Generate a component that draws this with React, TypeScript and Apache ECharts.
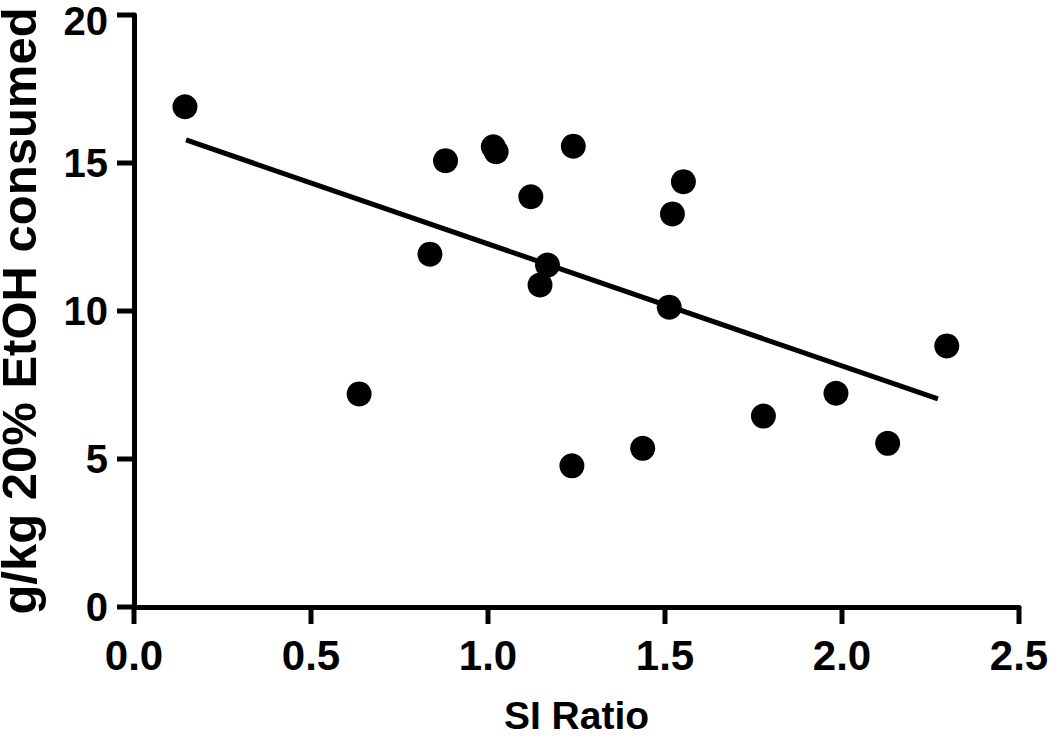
import React, { useEffect, useRef } from "react";
import * as echarts from "echarts";

const siRatio = [0.144, 0.636, 0.836, 0.880, 1.015, 1.023, 1.121, 1.147, 1.168, 1.241, 1.237, 1.437, 1.512, 1.521, 1.552, 1.778, 1.983, 2.129, 2.296];
const etohConsumed = [16.9, 7.2, 11.92, 15.08, 15.55, 15.38, 13.86, 10.88, 11.55, 15.57, 4.77, 5.36, 10.13, 13.28, 14.37, 6.45, 7.22, 5.53, 8.82];
const fitX = [0.147, 2.271];
const fitY = [15.78, 7.03];
const xTicks = [0, 0.5, 1.0, 1.5, 2.0, 2.5];
const yTicks = [0, 5, 10, 15, 20];
const xTitle = "SI Ratio";
const yTitle = "g/kg 20% EtOH consumed";

const FONT = "'Liberation Sans', Arial, Helvetica, sans-serif";
const TICK_LEN = 17;

export default function App() {
  const ref = useRef<HTMLDivElement>(null);
  useEffect(() => {
    if (!ref.current) return;
    const chart = echarts.init(ref.current, null, { renderer: "svg" });
    const points = siRatio.map((x, i) => [x, etohConsumed[i]]);
    const fit = fitX.map((x, i) => [x, fitY[i]]);
    chart.setOption({
      animation: false,
      backgroundColor: "#ffffff",
      grid: { left: 134, right: 31, top: 15, bottom: 129, containLabel: false, outerBoundsMode: "none" },
      xAxis: {
        type: "value",
        min: 0,
        max: 2.5,
        interval: 0.5,
        name: xTitle,
        nameLocation: "middle",
        nameGap: 93,
        nameTextStyle: { fontFamily: FONT, fontSize: 39, lineHeight: 30, fontWeight: "bold", color: "#000" },
        axisLine: { show: true, onZero: false, lineStyle: { color: "#000", width: 5, opacity: 1 } },
        axisTick: { show: false },
        axisLabel: {
          margin: 27,
          fontFamily: FONT,
          fontSize: 42,
          fontWeight: "bold",
          color: "#000",
          formatter: (v: number) => v.toFixed(1),
        },
        splitLine: { show: false },
      },
      yAxis: {
        type: "value",
        min: 0,
        max: 20,
        interval: 5,
        name: yTitle,
        nameLocation: "middle",
        nameGap: 91,
        nameTextStyle: { fontFamily: FONT, fontSize: 49, fontWeight: "bold", color: "#000" },
        axisLine: { show: true, onZero: false, lineStyle: { color: "#000", width: 5, opacity: 1 } },
        axisTick: { show: false },
        axisLabel: {
          margin: 26,
          fontFamily: FONT,
          fontSize: 40,
          fontWeight: "bold",
          color: "#000",
          formatter: (v: number) => (v === 20 ? "{top|" + v + "}" : String(v)),
          rich: {
            top: {
              fontFamily: FONT,
              fontSize: 40,
              fontWeight: "bold",
              color: "#000",
              lineHeight: 20,
              padding: [12, 0, 0, 0],
            },
          },
        },
        splitLine: { show: false },
      },
      series: [
        {
          type: "line",
          data: fit,
          symbol: "none",
          lineStyle: { color: "#000", width: 5 },
          z: 2,
        },
        {
          type: "scatter",
          data: points,
          symbol: "circle",
          symbolSize: 25,
          itemStyle: { color: "#000", opacity: 1 },
          z: 3,
        },
      ],
    });

    const tickGraphics: any[] = [];
    xTicks.forEach((v) => {
      const p = chart.convertToPixel({ gridIndex: 0 }, [v, 0]) as number[];
      tickGraphics.push({
        type: "line",
        shape: { x1: p[0], y1: p[1], x2: p[0], y2: p[1] + TICK_LEN },
        style: { stroke: "#000", lineWidth: 5 },
        silent: true,
        z: 10,
      });
    });
    yTicks.forEach((v) => {
      const p = chart.convertToPixel({ gridIndex: 0 }, [0, v]) as number[];
      tickGraphics.push({
        type: "line",
        shape: { x1: p[0], y1: p[1], x2: p[0] - TICK_LEN, y2: p[1] },
        style: { stroke: "#000", lineWidth: 5 },
        silent: true,
        z: 10,
      });
    });
    chart.setOption({ graphic: tickGraphics });

    return () => chart.dispose();
  }, []);
  return (
    <div
      ref={ref}
      style={{ position: "fixed", left: 0, top: 0, width: 1050, height: 736, background: "#fff" }}
    />
  );
}
